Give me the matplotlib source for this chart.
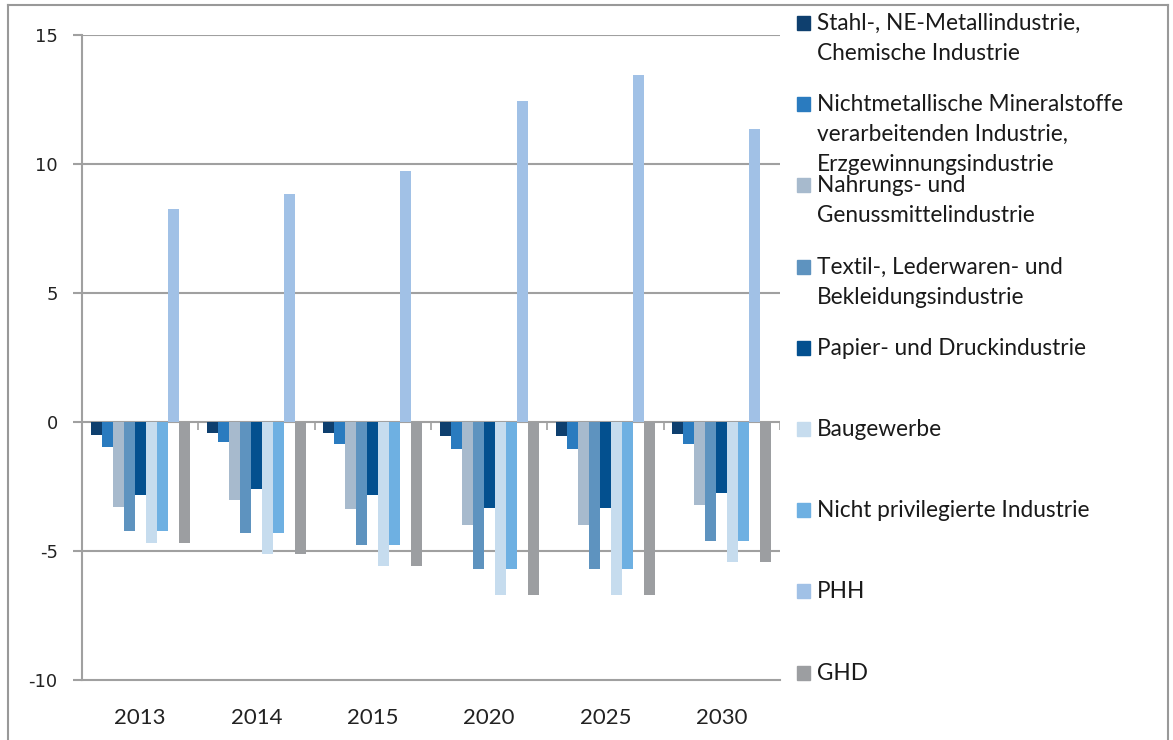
import numpy as np
import matplotlib
matplotlib.use("Agg")
import matplotlib.pyplot as plt
from matplotlib.patches import Rectangle
from matplotlib.lines import Line2D

# data
years = ["2013", "2014", "2015", "2020", "2025", "2030"]
series = [
    "Stahl-, NE-Metallindustrie,\nChemische Industrie",
    "Nichtmetallische Mineralstoffe\nverarbeitenden Industrie,\nErzgewinnungsindustrie",
    "Nahrungs- und\nGenussmittelindustrie",
    "Textil-, Lederwaren- und\nBekleidungsindustrie",
    "Papier- und Druckindustrie",
    "Baugewerbe",
    "Nicht privilegierte Industrie",
    "PHH",
    "GHD",
]
stahl      = [-0.50, -0.41, -0.44, -0.56, -0.56, -0.45]
nichtmet   = [-0.98, -0.79, -0.84, -1.03, -1.03, -0.84]
nahrung    = [-3.28, -3.02, -3.36, -3.99, -3.99, -3.23]
textil     = [-4.22, -4.31, -4.75, -5.70, -5.70, -4.61]
papier     = [-2.83, -2.60, -2.84, -3.32, -3.32, -2.75]
bau        = [-4.70, -5.13, -5.59, -6.69, -6.69, -5.41]
nichtpriv  = [-4.22, -4.31, -4.75, -5.70, -5.70, -4.61]
phh        = [8.24, 8.83, 9.73, 12.44, 13.45, 11.34]
ghd        = [-4.70, -5.13, -5.59, -6.69, -6.69, -5.41]
values = [stahl, nichtmet, nahrung, textil, papier, bau, nichtpriv, phh, ghd]

colors = ["#0e3f6e", "#2a7bbf", "#a7bacd", "#5e93bf", "#03508f",
          "#c6dcee", "#6eb0e2", "#a1c1e6", "#9c9ea1"]

W, H = 1173, 740
fig = plt.figure(figsize=(W / 100, H / 100), dpi=100)
ax = fig.add_axes([82 / W, 1 - 680 / H, (780 - 82) / W, (680 - 35) / H])

grid_c = "#a0a0a0"
x = np.arange(len(years))
n = len(values)
w = 1.0 / (n + 1.6)
for i, vals in enumerate(values):
    ax.bar(x + (i - (n - 1) / 2) * w, vals, width=w, color=colors[i],
           edgecolor="none", zorder=3)

ax.set_ylim(-10, 15)
ax.set_xlim(-0.5, len(years) - 0.5)
ax.set_yticks([-10, -5, 0, 5, 10, 15])
for yv in [-5, 0, 5, 10, 15]:
    ax.axhline(yv, color=grid_c, lw=1.5, zorder=1)
# category tick marks on the zero line
ax.vlines(np.arange(len(years) + 1) - 0.5, -0.3, 0, color=grid_c, lw=1.2, zorder=1)

for s in ["top", "right"]:
    ax.spines[s].set_visible(False)
for s in ["left", "bottom"]:
    ax.spines[s].set_color(grid_c)
    ax.spines[s].set_linewidth(1.5)
ax.tick_params(axis="y", length=6.5, width=1.5, color=grid_c, pad=11,
               labelsize=13, labelcolor="#222222")
ax.set_yticklabels(["-10", "-5", "0", "5", "10", "15"], family="DejaVu Sans")
ax.set_xticks(x)
ax.set_xticklabels(years, family="Lato", fontsize=16, color="#222222")
ax.tick_params(axis="x", length=0, pad=20)

# legend drawn by hand (entries evenly spaced like the original)
first_base = 30
step = 81.2
pitch = 30
for i, lab in enumerate(series):
    base = first_base + i * step
    fig.patches.append(Rectangle((797 / W, 1 - base / H), 13 / W, 14 / H,
                                 transform=fig.transFigure, color=colors[i]))
    for j, line in enumerate(lab.split("\n")):
        fig.text(817 / W, 1 - (base + j * pitch) / H, line,
                 family="Lato", fontsize=16.3, color="#1a1a1a",
                 va="baseline", ha="left")

# outer frame
for xs, ys in [([8, 1168], [5, 5]), ([8, 8], [5, 740]), ([1168, 1168], [5, 740])]:
    fig.lines.append(Line2D([v / W for v in xs], [1 - v / H for v in ys],
                            transform=fig.transFigure, color="#999999", lw=1.5))

fig.savefig("out.png", dpi=100)
